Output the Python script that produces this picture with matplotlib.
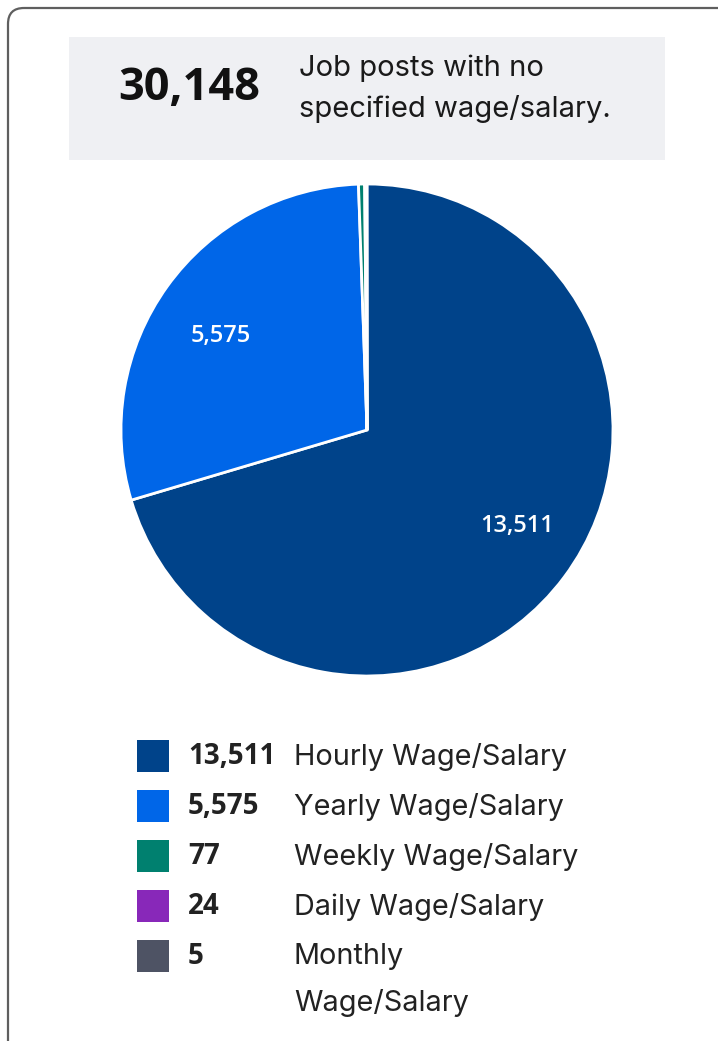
import matplotlib
matplotlib.use("Agg")
from matplotlib import pyplot as plt
from matplotlib.patches import FancyBboxPatch, Rectangle

plt.rcParams['font.family'] = ['Inter', 'DejaVu Sans']
NUM_FONT = ['Open Sans', 'DejaVu Sans']

# data
categories = ["Hourly Wage/Salary", "Yearly Wage/Salary", "Weekly Wage/Salary",
              "Daily Wage/Salary", "Monthly\nWage/Salary"]
counts = [13511, 5575, 77, 24, 5]
colors = ["#00438a", "#0066e8", "#00806f", "#8828b9", "#4e5364"]
no_wage_total = 30148
no_wage_text = ["Job posts with no", "specified wage/salary."]

W, H = 718, 1041
fig = plt.figure(figsize=(W / 100, H / 100), dpi=100)
fig.patch.set_facecolor("white")

# pie axes first, overlay axes on top (pixel coords, y downwards)
cx, cy, r = 367, 430, 246
pax = fig.add_axes([(cx - r) / W, (H - cy - r) / H, 2 * r / W, 2 * r / H])
pax.pie(counts, colors=colors, startangle=90, counterclock=False,
        wedgeprops=dict(edgecolor="white", linewidth=2))
pax.set_xlim(-1, 1)
pax.set_ylim(-1, 1)
pax.set_aspect("equal")

bg = fig.add_axes([0, 0, 1, 1])
bg.set_xlim(0, W)
bg.set_ylim(H, 0)
bg.axis("off")
bg.set_zorder(3)

# card border, runs off right/bottom edge
bg.add_patch(FancyBboxPatch((8, 8), 740, 1060, boxstyle="round,pad=0,rounding_size=16",
                            facecolor="none", edgecolor="#5f5f5f", linewidth=1.6))

# header box
bg.add_patch(Rectangle((69, 37), 596, 123, facecolor="#eff0f3", edgecolor="none"))
bg.text(189, 89, f"{no_wage_total:,}", fontsize=32.5, fontweight="bold", color="#111111",
        ha="center", va="center", family=NUM_FONT)
for i, line in enumerate(no_wage_text):
    bg.text(299, 68 + 41 * i, line, fontsize=21, color="#1a1a1a", ha="left", va="center")

# slice labels for the two big wedges
for n, (x, y) in zip(counts[:2], [(517, 526), (221, 336)]):
    bg.text(x, y, f"{n:,}", fontsize=17, fontweight="semibold", color="white",
            ha="center", va="center", family=NUM_FONT)

# legend
row_y = [757, 807, 857, 907, 957]
for y, cat, n, c in zip(row_y, categories, counts, colors):
    bg.add_patch(Rectangle((137, y - 17), 32, 32, facecolor=c, edgecolor="none"))
    bg.text(188, y, f"{n:,}", fontsize=20, fontweight="bold", color="#222222",
            ha="left", va="center", family=NUM_FONT)
    for j, part in enumerate(cat.split("\n")):
        bg.text(294, y + 46 * j, part, fontsize=20.8, color="#222222", ha="left", va="center")

fig.savefig("out.png", dpi=100)
